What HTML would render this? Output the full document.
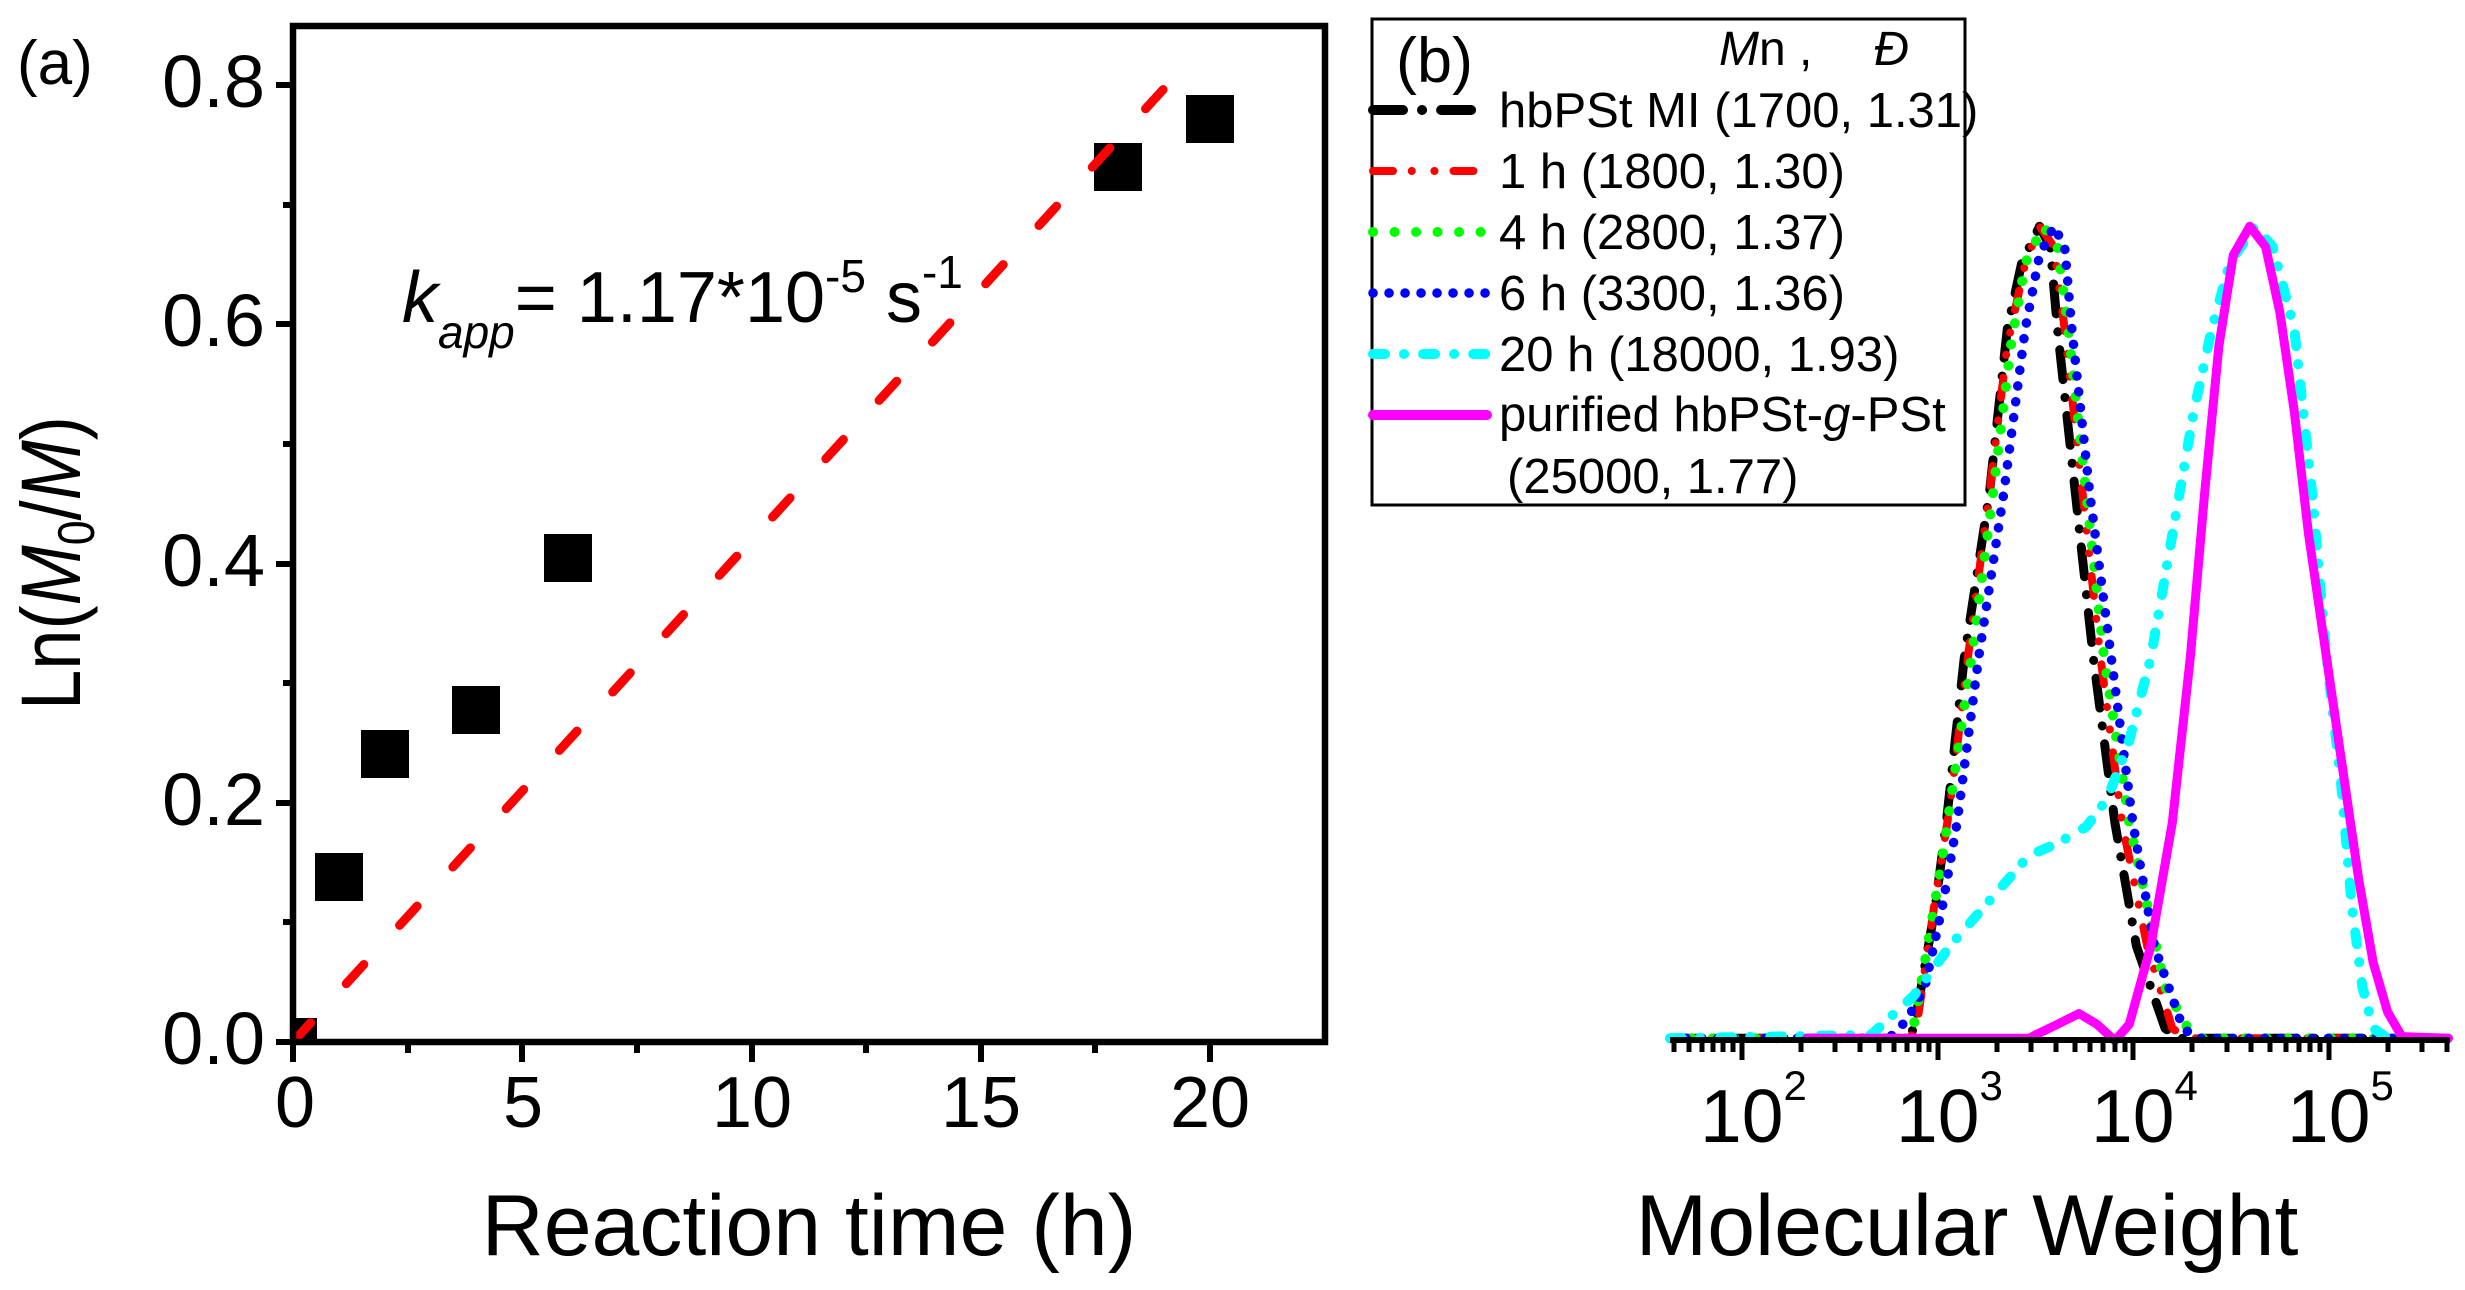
<!DOCTYPE html>
<html><head><meta charset="utf-8"><style>
html,body{margin:0;padding:0;background:#fff;}
svg{display:block;}
text{font-family:"Liberation Sans",Arial,sans-serif;fill:#000;}
</style></head><body>
<svg width="2465" height="1290" viewBox="0 0 2465 1290" xmlns="http://www.w3.org/2000/svg">
<defs><clipPath id="ca"><rect x="293" y="26" width="1032" height="1016"/></clipPath></defs>

<!-- Panel (a) -->
<text x="17" y="84" font-size="62">(a)</text>
<g clip-path="url(#ca)" fill="#000">
  <rect x="269" y="1018" width="48" height="48"/>
  <rect x="315" y="853" width="48" height="48"/>
  <rect x="361" y="730" width="48" height="48"/>
  <rect x="452" y="686" width="48" height="48"/>
  <rect x="544" y="534" width="48" height="48"/>
  <rect x="1094" y="143" width="48" height="48"/>
  <rect x="1186" y="95" width="48" height="48"/>
</g>
<line x1="293" y1="1042" x2="1181" y2="70" stroke="#f00" stroke-width="9" stroke-linecap="round" stroke-dasharray="26 53"/>
<rect x="293" y="26" width="1032" height="1016" fill="none" stroke="#000" stroke-width="6.5"/>
<g stroke="#000" stroke-width="6">
  <line x1="276" y1="1042" x2="293" y2="1042"/><line x1="283" y1="922" x2="293" y2="922"/>
  <line x1="276" y1="803" x2="293" y2="803"/><line x1="283" y1="683" x2="293" y2="683"/>
  <line x1="276" y1="564" x2="293" y2="564"/><line x1="283" y1="444" x2="293" y2="444"/>
  <line x1="276" y1="324" x2="293" y2="324"/><line x1="283" y1="205" x2="293" y2="205"/>
  <line x1="276" y1="85" x2="293" y2="85"/>
  <line x1="293" y1="1042" x2="293" y2="1062"/><line x1="408" y1="1042" x2="408" y2="1053"/>
  <line x1="522" y1="1042" x2="522" y2="1062"/><line x1="637" y1="1042" x2="637" y2="1053"/>
  <line x1="752" y1="1042" x2="752" y2="1062"/><line x1="866" y1="1042" x2="866" y2="1053"/>
  <line x1="981" y1="1042" x2="981" y2="1062"/><line x1="1095" y1="1042" x2="1095" y2="1053"/>
  <line x1="1210" y1="1042" x2="1210" y2="1062"/>
</g>
<g font-size="74" text-anchor="end">
  <text x="265" y="1064">0.0</text><text x="265" y="825">0.2</text>
  <text x="265" y="586">0.4</text><text x="265" y="346">0.6</text><text x="265" y="107">0.8</text>
</g>
<g font-size="72" text-anchor="middle">
  <text x="295" y="1127">0</text><text x="523" y="1127">5</text><text x="752" y="1127">10</text>
  <text x="981" y="1127">15</text><text x="1210" y="1127">20</text>
</g>
<text x="809" y="1255" font-size="86" text-anchor="middle">Reaction time (h)</text>
<g transform="translate(80,563) rotate(-90) scale(0.86,1)">
  <text x="0" y="0" font-size="84" text-anchor="middle">Ln(<tspan font-style="italic">M</tspan><tspan font-size="52" dy="14">0</tspan><tspan dy="-14">/</tspan><tspan font-style="italic">M</tspan>)</text>
</g>
<text x="402" y="322" font-size="72"><tspan font-style="italic">k</tspan><tspan font-style="italic" font-size="46" dy="26">app</tspan><tspan dy="-26">= 1.17*10</tspan><tspan font-size="46" dy="-30">-5</tspan><tspan dy="30"> s</tspan><tspan font-size="46" dy="-34">-1</tspan></text>

<!-- Panel (b) -->
<g transform="translate(1340,0) scale(0.7175,0.8227)" fill="none" stroke-linejoin="round" stroke-linecap="round">
  <polyline vector-effect="non-scaling-stroke" stroke="#000" stroke-width="9" stroke-dasharray="30 18 0.1 18" points="460,1262 790,1262 800,1250 810,1200 830,1100 845,1000 870,800 905,600 930,400 950,320 975,275 990,300 1000,400 1025,600 1050,800 1080,1000 1110,1150 1150,1250 1170,1262 1545,1262"/>
  <polyline vector-effect="non-scaling-stroke" stroke="#f00" stroke-width="8" stroke-dasharray="20 23 0.1 22.6 0.1 23" points="460,1262 795,1262 805,1240 815,1180 830,1090 850,980 875,800 905,600 930,420 955,320 975,275 995,300 1010,400 1035,600 1060,800 1090,1000 1125,1150 1160,1250 1180,1262 1545,1262"/>
  <polyline vector-effect="non-scaling-stroke" stroke="#0f0" stroke-width="10" stroke-dasharray="0.1 21.3" points="460,1262 795,1262 800,1245 815,1170 840,1040 860,920 880,800 910,600 935,420 955,320 980,275 1000,300 1015,400 1040,600 1065,800 1100,1000 1130,1120 1150,1200 1185,1255 1200,1262 1545,1262"/>
  <polyline vector-effect="non-scaling-stroke" stroke="#00f" stroke-width="9.5" stroke-dasharray="0.1 15.8" points="460,1262 765,1262 790,1240 815,1200 840,1100 860,1000 890,800 925,600 955,400 975,310 995,275 1010,300 1020,400 1045,600 1075,800 1105,1000 1135,1150 1175,1250 1195,1262 1545,1262"/>
  <polyline vector-effect="non-scaling-stroke" stroke="#0ff" stroke-width="10" stroke-dasharray="12 18 0.1 20" points="460,1262 740,1258 800,1210 850,1150 900,1100 960,1040 1000,1025 1040,1005 1070,970 1100,900 1130,800 1160,650 1190,500 1215,400 1240,320 1275,275 1300,300 1330,400 1355,600 1375,800 1395,950 1410,1100 1425,1200 1440,1250 1460,1262 1475,1262"/>
  <polyline vector-effect="non-scaling-stroke" stroke="#f0f" stroke-width="9" points="650,1262 960,1262 1000,1245 1030,1232 1055,1245 1080,1265 1100,1245 1130,1150 1160,1000 1185,800 1205,600 1225,420 1245,310 1268,275 1290,300 1310,380 1330,500 1350,650 1375,800 1400,950 1420,1070 1440,1170 1460,1230 1480,1260 1545,1262"/>
</g>
<line x1="1670" y1="1040" x2="2450" y2="1040" stroke="#000" stroke-width="6"/>
<g stroke="#000" stroke-width="5">
  <line x1="1742" y1="1040" x2="1742" y2="1060"/><line x1="1938" y1="1040" x2="1938" y2="1060"/>
  <line x1="2133" y1="1040" x2="2133" y2="1060"/><line x1="2329" y1="1040" x2="2329" y2="1060"/>
  <!-- minor -->
  <line x1="1674" y1="1040" x2="1674" y2="1052"/><line x1="1689" y1="1040" x2="1689" y2="1052"/><line x1="1702" y1="1040" x2="1702" y2="1052"/><line x1="1713" y1="1040" x2="1713" y2="1052"/><line x1="1723" y1="1040" x2="1723" y2="1052"/><line x1="1733" y1="1040" x2="1733" y2="1052"/>
  <line x1="1801" y1="1040" x2="1801" y2="1052"/><line x1="1835" y1="1040" x2="1835" y2="1052"/><line x1="1860" y1="1040" x2="1860" y2="1052"/><line x1="1879" y1="1040" x2="1879" y2="1052"/><line x1="1894" y1="1040" x2="1894" y2="1052"/><line x1="1907" y1="1040" x2="1907" y2="1052"/><line x1="1919" y1="1040" x2="1919" y2="1052"/><line x1="1929" y1="1040" x2="1929" y2="1052"/>
  <line x1="1997" y1="1040" x2="1997" y2="1052"/><line x1="2031" y1="1040" x2="2031" y2="1052"/><line x1="2056" y1="1040" x2="2056" y2="1052"/><line x1="2075" y1="1040" x2="2075" y2="1052"/><line x1="2090" y1="1040" x2="2090" y2="1052"/><line x1="2103" y1="1040" x2="2103" y2="1052"/><line x1="2115" y1="1040" x2="2115" y2="1052"/><line x1="2125" y1="1040" x2="2125" y2="1052"/>
  <line x1="2192" y1="1040" x2="2192" y2="1052"/><line x1="2227" y1="1040" x2="2227" y2="1052"/><line x1="2251" y1="1040" x2="2251" y2="1052"/><line x1="2270" y1="1040" x2="2270" y2="1052"/><line x1="2286" y1="1040" x2="2286" y2="1052"/><line x1="2299" y1="1040" x2="2299" y2="1052"/><line x1="2310" y1="1040" x2="2310" y2="1052"/><line x1="2320" y1="1040" x2="2320" y2="1052"/>
  <line x1="2388" y1="1040" x2="2388" y2="1052"/><line x1="2422" y1="1040" x2="2422" y2="1052"/><line x1="2447" y1="1040" x2="2447" y2="1052"/>
</g>
<g font-size="75">
  <text x="1700" y="1142">10<tspan font-size="42" dy="-42">2</tspan></text>
  <text x="1896" y="1142">10<tspan font-size="42" dy="-42">3</tspan></text>
  <text x="2091" y="1142">10<tspan font-size="42" dy="-42">4</tspan></text>
  <text x="2287" y="1142">10<tspan font-size="42" dy="-42">5</tspan></text>
</g>
<text x="1967" y="1255" font-size="86" text-anchor="middle">Molecular Weight</text>

<!-- Legend -->
<rect x="1372" y="19" width="593" height="486" fill="#fff" stroke="#000" stroke-width="3"/>
<text x="1396" y="82" font-size="63">(b)</text>
<text x="1719" y="65" font-size="48"><tspan font-style="italic">M</tspan>n ,</text>
<text x="1874" y="65" font-size="48" font-style="italic">Đ</text>
<g fill="none" stroke-linecap="round">
  <line x1="1373" y1="110" x2="1478" y2="110" stroke="#000" stroke-width="10" stroke-dasharray="30 19 0.1 19"/>
  <line x1="1373" y1="171" x2="1484" y2="171" stroke="#f00" stroke-width="8" stroke-dasharray="20 18.7 0.1 22.6 0.1 19"/>
  <line x1="1373" y1="232" x2="1487" y2="232" stroke="#0f0" stroke-width="10" stroke-dasharray="0.1 21.4"/>
  <line x1="1373" y1="293" x2="1488" y2="293" stroke="#00f" stroke-width="9.5" stroke-dasharray="0.1 15.9"/>
  <line x1="1373" y1="354" x2="1487" y2="354" stroke="#0ff" stroke-width="10" stroke-dasharray="12 19 0.1 19"/>
  <line x1="1373" y1="415" x2="1487" y2="415" stroke="#f0f" stroke-width="10"/>
</g>
<g font-size="49">
  <text x="1499" y="127">hbPSt MI (1700, 1.31)</text>
  <text x="1499" y="188">1 h (1800, 1.30)</text>
  <text x="1499" y="249">4 h (2800, 1.37)</text>
  <text x="1499" y="310">6 h (3300, 1.36)</text>
  <text x="1499" y="371">20 h (18000, 1.93)</text>
  <text x="1499" y="431">purified hbPSt-<tspan font-style="italic">g</tspan>-PSt</text>
  <text x="1507" y="493">(25000, 1.77)</text>
</g>
</svg>
</body></html>
